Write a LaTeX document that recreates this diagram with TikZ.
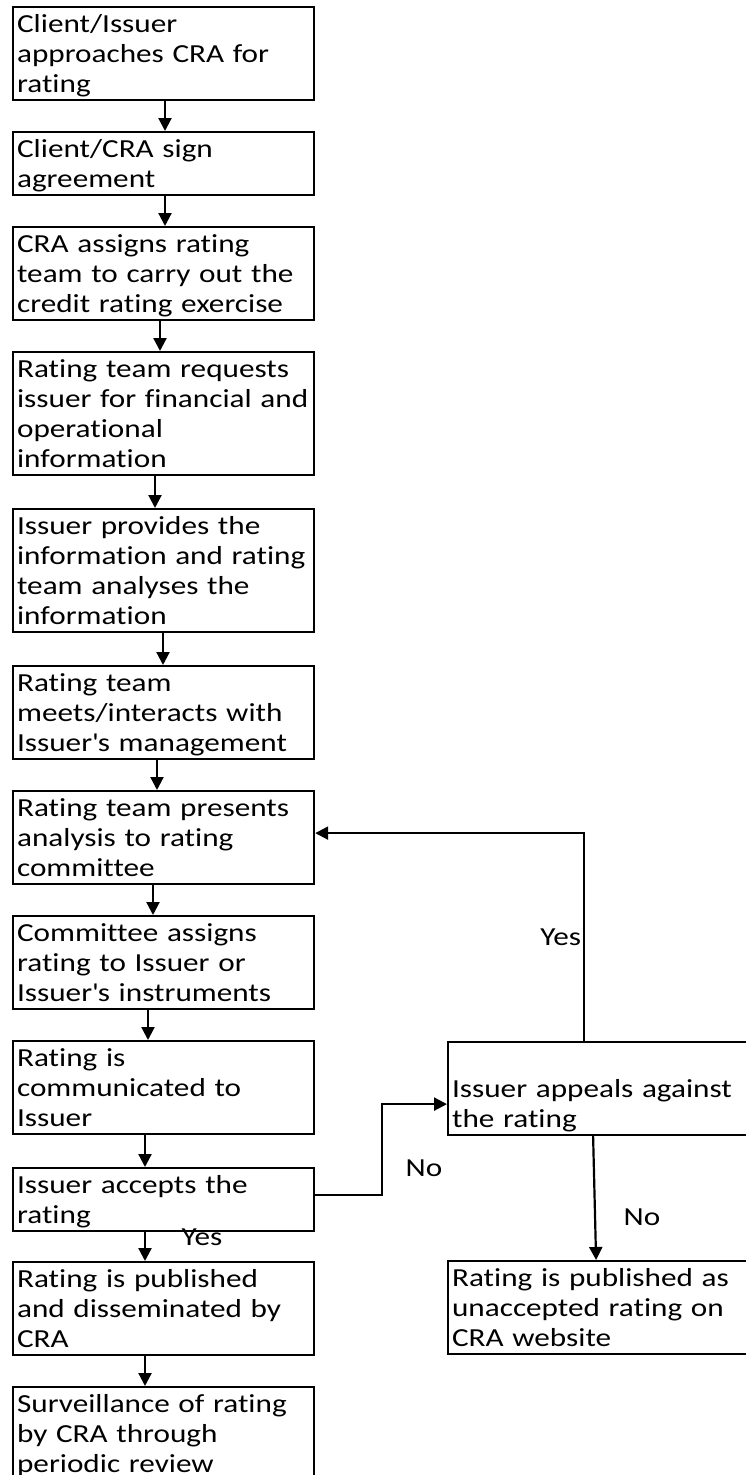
\documentclass[tikz,border=0pt]{standalone}
\usepackage{fontspec}
\setmainfont[FakeStretch=1.2,Ligatures=NoCommon]{Carlito}
\usepackage{tikz}
\usetikzlibrary{positioning,calc,arrows.meta}

\tikzset{
    stepbox/.style={draw, line width=2.2pt, anchor=north west, text width=293pt,
        inner xsep=4pt, inner ysep=1.5pt, align=left, font=\fontsize{26}{30}\selectfont,
        execute at begin node={\rule{0pt}{24pt}}, execute at end node={\rule[-6pt]{0pt}{6pt}}},
    flow/.style={line width=2.2pt, -{Triangle[length=13pt,width=13pt]}},
    lbl/.style={font=\fontsize{26}{30}\selectfont, inner sep=2pt}
}

\begin{document}
\begin{tikzpicture}[x=1pt, y=-1pt]
    \useasboundingbox (0, 0) rectangle (746, 1475);
    \clip (0, 0) rectangle (746, 1475);

    % Main column
    \node [stepbox] (approach) at (12, 6) {Client/Issuer\\approaches CRA for\\rating};
    \node [stepbox] (sign) at (12, 131) {Client/CRA sign\\agreement};
    \node [stepbox] (team) at (12, 226) {CRA assigns rating\\team to carry out the\\credit rating exercise};
    \node [stepbox] (request) at (12, 351) {Rating team requests\\issuer for financial and\\operational\\information};
    \node [stepbox] (provide) at (12, 508) {Issuer provides the\\information and rating\\team analyses the\\information};
    \node [stepbox] (meet) at (12, 665) {Rating team\\meets/interacts with\\Issuer\textquotesingle s management};
    \node [stepbox] (present) at (12, 790) {Rating team presents\\analysis to rating\\committee};
    \node [stepbox] (assign) at (12, 915) {Committee assigns\\rating to Issuer or\\Issuer\textquotesingle s instruments};
    \node [stepbox] (inform) at (12, 1040) {Rating is\\communicated to\\Issuer};
    \node [stepbox] (accept) at (12, 1167) {Issuer accepts the\\rating};
    \node [stepbox] (publish) at (12, 1261) {Rating is published\\and disseminated by\\CRA};
    \node [stepbox] (review) at (12, 1386) {Surveillance of rating\\by CRA through\\periodic review};

    % Appeal column
    \node [stepbox] (appeal) at (447, 1041) {\\Issuer appeals against\\the rating};
    \node [stepbox] (unaccepted) at (447, 1260) {Rating is published as\\unaccepted rating on\\CRA website};

    % Arrows down the main column
    \foreach \a/\b/\s in {approach/sign/153, sign/team/153, team/request/148,
        request/provide/143, provide/meet/151, meet/present/145, present/assign/141,
        assign/inform/136, inform/accept/133, accept/publish/133, publish/review/133}
        \draw [flow] ([xshift=\s pt]\a.south west) -- ([xshift=\s pt]\b.north west);

    % Decision branches
    \draw [flow] ([yshift=5pt]accept.east) -- ++(67, 0) |- ([yshift=-15.5pt]appeal.west);
    \draw [flow] ([xshift=-14.5pt]appeal.north) |- ([yshift=4.5pt]present.east)
        node [pos=0.25, left, lbl] (yesup) {Yes};
    \draw [flow] ([xshift=-5.5pt]appeal.south) -- ([xshift=-2.5pt]unaccepted.north);

    \node [lbl] (noright) at (424, 1168) {No};
    \node [lbl] (nodown) at (642, 1217) {No};
    \node [lbl] (yesdown) at (202, 1237) {Yes};
\end{tikzpicture}
\end{document}
